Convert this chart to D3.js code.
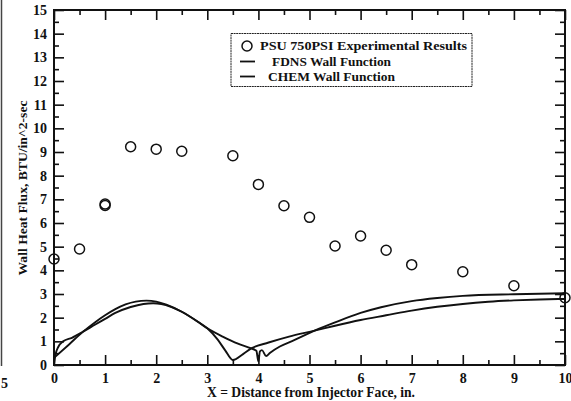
<!DOCTYPE html>
<html><head><meta charset="utf-8">
<script src="https://cdn.jsdelivr.net/npm/d3@7"></script>
<style>
html,body{margin:0;padding:0;background:#fff;}
svg{display:block;}
text{font-family:"Liberation Serif","Times New Roman",serif;font-weight:bold;fill:#111;}
</style></head>
<body>
<svg id="c" width="571" height="401"></svg>
<script>
// Experimental data (PSU 750PSI)
const expX = [0, 0.5, 1, 1, 1.5, 2, 2.5, 3.5, 4, 4.5, 5, 5.5, 6, 6.5, 7, 8, 9, 10];
const expY = [4.48, 4.9, 6.74, 6.8, 9.22, 9.12, 9.03, 8.84, 7.63, 6.73, 6.24, 5.03, 5.45, 4.85, 4.24, 3.94, 3.35, 2.84];

// FDNS wall function
const fdnsX = [0, 0.3, 0.57, 0.8, 1.0, 1.2, 1.4, 1.6, 1.81, 2.0, 2.2, 2.5, 2.8, 3.0, 3.2, 3.35, 3.5, 3.7, 3.86, 4.2, 4.6, 5.1, 5.5, 6.0, 6.5, 7.0, 7.5, 8.0, 8.5, 9.0, 9.5, 10];
const fdnsY = [0.3, 0.88, 1.41, 1.8, 2.1, 2.36, 2.56, 2.68, 2.72, 2.68, 2.55, 2.25, 1.85, 1.55, 1.08, 0.62, 0.21, 0.46, 0.7, 0.95, 1.2, 1.45, 1.66, 1.9, 2.1, 2.3, 2.46, 2.58, 2.67, 2.73, 2.77, 2.79];

// CHEM wall function
const chemX = [0, 0.03, 0.08, 0.18, 0.35, 0.57, 0.8, 1.0, 1.2, 1.5, 1.75, 1.94, 2.1, 2.3, 2.5, 2.8, 3.0, 3.3, 3.6, 3.86, 3.96, 4.0, 4.03, 4.07, 4.15, 4.23, 4.42, 4.7, 5.1, 5.5, 6.0, 6.4, 7.0, 7.5, 8.0, 9.0, 10];
const chemY = [0.05, 0.45, 0.75, 1.0, 1.15, 1.41, 1.7, 1.95, 2.2, 2.45, 2.58, 2.61, 2.58, 2.45, 2.25, 1.85, 1.55, 1.2, 0.9, 0.7, 0.6, 0.15, 0.58, 0.63, 0.38, 0.52, 0.78, 1.05, 1.45, 1.8, 2.2, 2.44, 2.7, 2.83, 2.92, 2.99, 3.03];

const xMajor = d3.range(0, 11, 1);
const xMinor = d3.range(0.5, 10, 1);
const yMajor = d3.range(0, 16, 1);
const yMinor = d3.range(0.5, 15, 1);

const legendLabels = ["PSU 750PSI Experimental Results", "FDNS Wall Function", "CHEM Wall Function"];
const xTitle = "X = Distance from Injector Face, in.";
const yTitle = "Wall Heat Flux, BTU/in^2-sec";

const svg = d3.select("#c");
const L = 54, R = 565, T = 10, B = 365;
const x = d3.scaleLinear().domain([0, 10]).range([L, R]);
const y = d3.scaleLinear().domain([0, 15]).range([B, T]);
const ink = "#111";
const serif = "Liberation Serif, Times New Roman, serif";

// scan artifacts at left edge
svg.append("line").attr("x1", 1.5).attr("x2", 1.5).attr("y1", 0).attr("y2", 366)
  .attr("stroke", "#444").attr("stroke-width", 1.5);
svg.append("text").attr("x", 1).attr("y", 388).attr("font-size", 14).text("5");

function styleAxis(g) {
  g.attr("font-family", serif);
  g.select(".domain").remove();
  g.selectAll(".tick line").attr("stroke", ink).attr("stroke-width", 1.6);
  g.selectAll(".tick text").attr("fill", ink).attr("font-size", 14)
    .attr("font-family", serif).attr("font-weight", "bold");
}

// bottom
svg.append("g").attr("transform", `translate(0,${B})`)
  .call(d3.axisBottom(x).tickValues(xMajor).tickSize(-10).tickSizeOuter(0).tickPadding(8).tickFormat(d3.format("d")))
  .call(styleAxis);
svg.append("g").attr("transform", `translate(0,${B})`)
  .call(d3.axisBottom(x).tickValues(xMinor).tickSize(-5).tickSizeOuter(0).tickFormat(""))
  .call(styleAxis);
// top
svg.append("g").attr("transform", `translate(0,${T})`)
  .call(d3.axisTop(x).tickValues(xMajor).tickSize(-10).tickSizeOuter(0).tickFormat(""))
  .call(styleAxis);
svg.append("g").attr("transform", `translate(0,${T})`)
  .call(d3.axisTop(x).tickValues(xMinor).tickSize(-5).tickSizeOuter(0).tickFormat(""))
  .call(styleAxis);
// left
svg.append("g").attr("transform", `translate(${L},0)`)
  .call(d3.axisLeft(y).tickValues(yMajor).tickSize(-10).tickSizeOuter(0).tickPadding(7).tickFormat(d3.format("d")))
  .call(styleAxis);
svg.append("g").attr("transform", `translate(${L},0)`)
  .call(d3.axisLeft(y).tickValues(yMinor).tickSize(-5).tickSizeOuter(0).tickFormat(""))
  .call(styleAxis);
// right
svg.append("g").attr("transform", `translate(${R},0)`)
  .call(d3.axisRight(y).tickValues(yMajor).tickSize(-10).tickSizeOuter(0).tickFormat(""))
  .call(styleAxis);
svg.append("g").attr("transform", `translate(${R},0)`)
  .call(d3.axisRight(y).tickValues(yMinor).tickSize(-5).tickSizeOuter(0).tickFormat(""))
  .call(styleAxis);

// frame
svg.append("rect").attr("x", L).attr("y", T).attr("width", R - L).attr("height", B - T)
  .attr("fill", "none").attr("stroke", ink).attr("stroke-width", 2);

// curves
const line = d3.line().x(d => x(d[0])).y(d => y(d[1])).curve(d3.curveMonotoneX);
const fdns = fdnsX.map((v, i) => [v, fdnsY[i]]);
const chem = chemX.map((v, i) => [v, chemY[i]]);
[fdns, chem].forEach(data => {
  svg.append("path").datum(data).attr("d", line)
    .attr("fill", "none").attr("stroke", ink).attr("stroke-width", 1.9).attr("stroke-linejoin", "round");
});

// experimental points
svg.append("g").selectAll("circle").data(expX.map((v, i) => [v, expY[i]])).join("circle")
  .attr("cx", d => x(d[0])).attr("cy", d => y(d[1])).attr("r", 5)
  .attr("fill", "none").attr("stroke", ink).attr("stroke-width", 1.5);

// legend
const lg = svg.append("g");
lg.append("rect").attr("x", 231).attr("y", 33.5).attr("width", 241).attr("height", 53)
  .attr("fill", "#fff").attr("stroke", "#222").attr("stroke-width", 1).attr("stroke-dasharray", "2,0.6");
lg.append("circle").attr("cx", 247).attr("cy", 46).attr("r", 5)
  .attr("fill", "none").attr("stroke", ink).attr("stroke-width", 1.5);
lg.append("line").attr("x1", 240).attr("x2", 255).attr("y1", 61.5).attr("y2", 61.5).attr("stroke", ink).attr("stroke-width", 1.8);
lg.append("line").attr("x1", 240).attr("x2", 255).attr("y1", 76.5).attr("y2", 76.5).attr("stroke", ink).attr("stroke-width", 1.8);
const lgPos = [[260, 50, 207], [272, 65.5, 119], [268, 80.5, 127]];
legendLabels.forEach((t, i) => {
  lg.append("text").attr("x", lgPos[i][0]).attr("y", lgPos[i][1]).attr("font-size", 13)
    .attr("font-family", serif)
    .attr("textLength", lgPos[i][2]).attr("lengthAdjust", "spacingAndGlyphs").text(t);
});

// axis titles
svg.append("text").attr("x", 311).attr("y", 397).attr("text-anchor", "middle").attr("font-size", 14)
  .attr("font-family", serif)
  .attr("textLength", 208).attr("lengthAdjust", "spacingAndGlyphs").text(xTitle);
svg.append("text").attr("transform", "translate(27,188) rotate(-90)").attr("text-anchor", "middle")
  .attr("font-family", serif)
  .attr("font-size", 12).attr("textLength", 175).attr("lengthAdjust", "spacingAndGlyphs").text(yTitle);
</script>
</body></html>
